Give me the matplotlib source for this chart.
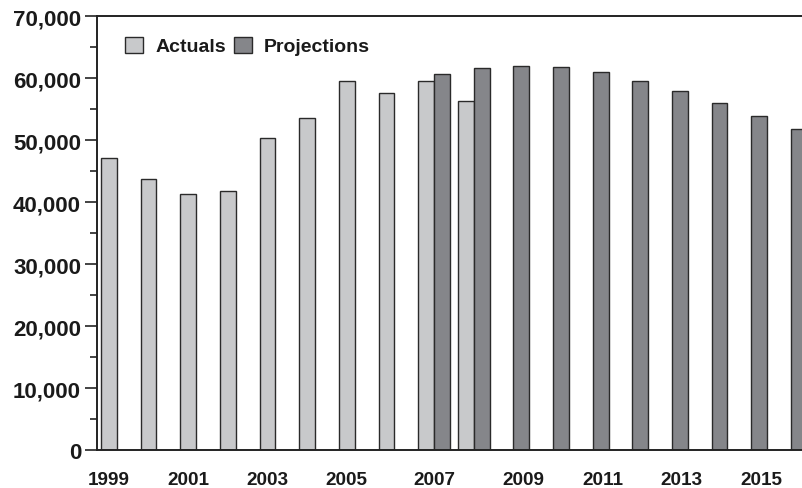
import matplotlib
matplotlib.use("Agg")
import matplotlib.pyplot as plt
from matplotlib.ticker import MultipleLocator, FuncFormatter
from matplotlib.patches import Patch
import numpy as np

# ---- data ----
years = list(range(1999, 2017))
actual_years = list(range(1999, 2009))
actual_values = [47200, 43700, 41300, 41800, 50300, 53600, 59600, 57700, 59600, 56400]
proj_years = list(range(2007, 2017))
proj_values = [60700, 61600, 62000, 61800, 61000, 59600, 57900, 56000, 54000, 51900]
tick_years = [1999, 2001, 2003, 2005, 2007, 2009, 2011, 2013, 2015]
legend_labels = ["Actuals", "Projections"]

c_act = "#c8c9cb"
c_proj = "#85868a"
c_edge = "#2a2a2a"
font = "Liberation Sans"

fig = plt.figure(figsize=(8.02, 4.89), dpi=100)
W, H = 802, 489
ax = fig.add_axes([97 / W, 38 / H, (802 - 97) / W, (451 - 17.4) / H])

bw = 0.4
xa = np.array([years.index(y) for y in actual_years]) - bw / 2
xp = np.array([years.index(y) for y in proj_years]) + bw / 2
ax.bar(xa, actual_values, width=bw, color=c_act, edgecolor=c_edge, linewidth=1.0, zorder=2)
ax.bar(xp, proj_values, width=bw, color=c_proj, edgecolor=c_edge, linewidth=1.0, zorder=2)

ax.set_xlim(-0.5, 17.28)
ax.set_ylim(0, 70000)

# tick label positions
tpos = []
for y in tick_years:
    i = years.index(y)
    if y < 2007:
        tpos.append(i - bw / 2)
    elif y == 2007:
        tpos.append(i)
    else:
        tpos.append(i + bw / 2 + 0.05)
ax.set_xticks(tpos)
ax.set_xticklabels([str(y) for y in tick_years], fontfamily=font, fontweight="bold", fontsize=13.6)
ax.tick_params(axis="x", length=0, pad=15)

ax.yaxis.set_major_locator(MultipleLocator(10000))
ax.yaxis.set_minor_locator(MultipleLocator(5000))
ax.yaxis.set_major_formatter(FuncFormatter(lambda v, p: f"{int(v):,}"))
ax.tick_params(axis="y", which="major", length=8.5, width=1.1, pad=3, direction="out", colors="#111")
ax.tick_params(axis="y", which="minor", length=5, width=1.1, direction="out", colors="#111")
plt.setp(ax.get_yticklabels(), fontfamily=font, fontweight="bold", fontsize=16, color="#1a1a1a")
plt.setp(ax.get_xticklabels(), color="#1a1a1a")

for s in ["left", "bottom", "top"]:
    ax.spines[s].set_linewidth(1.4)
    ax.spines[s].set_color("#222222")
ax.spines["right"].set_visible(False)

handles = [Patch(facecolor=c_act, edgecolor=c_edge, linewidth=1.0),
           Patch(facecolor=c_proj, edgecolor=c_edge, linewidth=1.0)]
leg = ax.legend(handles, legend_labels, loc="center left", bbox_to_anchor=(28 / 705, 1 - 29.6 / 433.6),
                ncol=2, frameon=False, borderpad=0, borderaxespad=0,
                handlelength=0.93, handleheight=0.93, handletextpad=0.62, columnspacing=0.42,
                prop={"family": font, "weight": "bold", "size": 14})
for t in leg.get_texts():
    t.set_color("#1a1a1a")

fig.savefig("out.png", dpi=100)
